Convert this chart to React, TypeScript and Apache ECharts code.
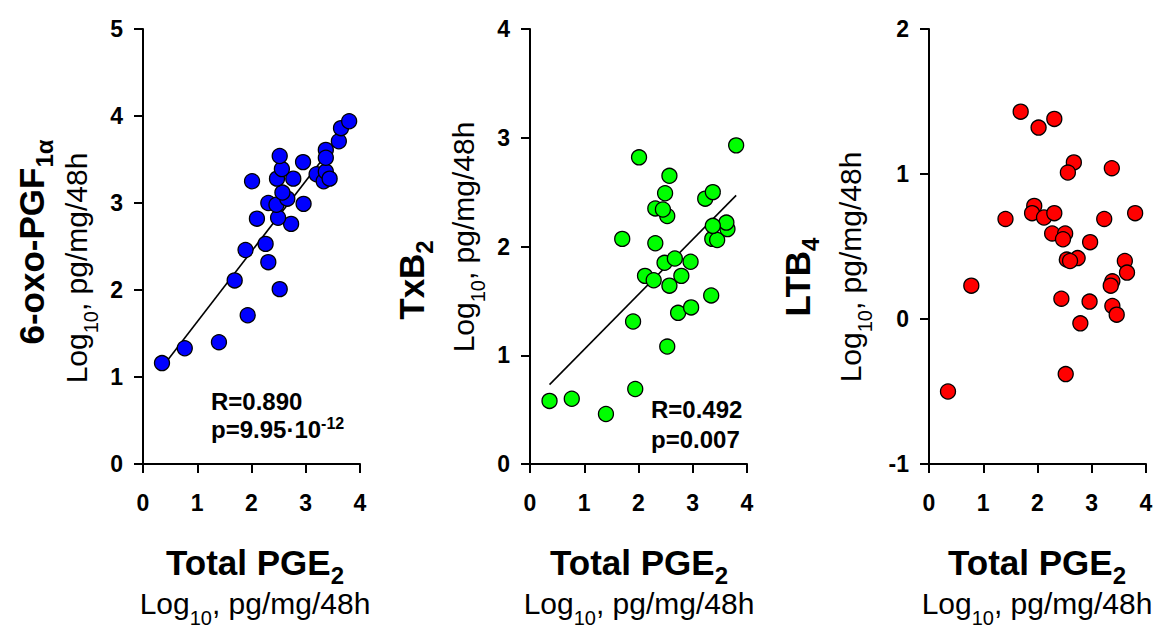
import React, { useEffect, useRef } from "react";
import * as echarts from "echarts";

const FONT = "'Liberation Sans', Arial, Helvetica, sans-serif";

// Panel 1: Total PGE2 vs 6-oxo-PGF1α
const pgeA = [0.35, 0.77, 1.4, 1.93, 2.52, 1.69, 2.31, 1.89, 2.26, 2.1, 2.73, 2.49, 2.31, 2.46, 2.66, 2.57, 2.96, 2.01, 2.47, 2.77, 2.56, 2.52, 2.95, 3.2, 3.33, 3.37, 3.44, 3.37, 3.37, 3.61, 3.65, 3.8];
const oxoPgf = [1.16, 1.33, 1.4, 1.71, 2.01, 2.11, 2.32, 2.46, 2.53, 2.82, 2.76, 2.83, 3.0, 2.98, 3.05, 3.12, 2.99, 3.25, 3.28, 3.28, 3.39, 3.54, 3.47, 3.33, 3.25, 3.36, 3.28, 3.61, 3.52, 3.71, 3.86, 3.94];
const fitAX = [0.35, 3.8];
const fitAY = [1.11, 3.9];

// Panel 2: Total PGE2 vs TxB2
const pgeB = [0.36, 0.77, 1.4, 1.94, 1.9, 2.53, 2.73, 2.97, 3.34, 2.57, 2.12, 2.28, 2.79, 2.48, 2.67, 2.96, 1.7, 2.31, 3.36, 3.45, 3.64, 3.62, 3.37, 2.53, 2.31, 2.45, 2.49, 3.23, 3.37, 2.57, 2.01, 3.8];
const txb = [0.58, 0.6, 0.46, 0.69, 1.31, 1.08, 1.39, 1.44, 1.55, 1.64, 1.73, 1.69, 1.73, 1.85, 1.89, 1.86, 2.07, 2.03, 2.07, 2.06, 2.16, 2.22, 2.19, 2.28, 2.35, 2.34, 2.49, 2.44, 2.5, 2.65, 2.82, 2.93];
const fitBX = [0.36, 3.8];
const fitBY = [0.73, 2.47];

// Panel 3: Total PGE2 vs LTB4
const pgeC = [1.69, 2.02, 2.31, 2.67, 2.56, 3.37, 1.41, 1.94, 1.9, 2.12, 2.31, 3.23, 3.8, 2.27, 2.51, 2.47, 2.97, 2.74, 2.54, 2.6, 3.61, 3.65, 0.78, 3.38, 3.35, 2.44, 2.96, 3.38, 3.46, 2.79, 2.52, 0.35];
const ltb = [1.43, 1.32, 1.38, 1.08, 1.01, 1.04, 0.69, 0.78, 0.73, 0.7, 0.73, 0.69, 0.73, 0.59, 0.59, 0.55, 0.53, 0.42, 0.41, 0.4, 0.4, 0.32, 0.23, 0.26, 0.23, 0.14, 0.12, 0.09, 0.03, -0.03, -0.38, -0.5];

const xRange = [0, 4];
const yRanges = [[0, 5], [0, 4], [-1, 2]];
const dotColors = ["#0000ff", "#00ff00", "#ff0000"];

const yTitles = ["{m|6-oxo-PGF}{s|1α}", "{m|TxB}{s|2}", "{m|LTB}{s|4}"];
const xTitle = "{m|Total PGE}{s|2}";
const unitText = "{m|Log}{s|10}{m|, pg/mg/48h}";
const statsA = ["{m|R=0.890}", "{m|p=9.95·10}{u|-12}"];
const statsB = ["{m|R=0.492}", "{m|p=0.007}"];

const zip = (a: number[], b: number[]) => a.map((v, i) => [v, b[i]]);

const boldRich = {
  m: { fontFamily: FONT, fontSize: 35, fontWeight: "bold", color: "#000", lineHeight: 34 },
  s: { fontFamily: FONT, fontSize: 24, fontWeight: "bold", color: "#000", lineHeight: 34, padding: [27, 0, 0, 0] },
};
const unitRich = {
  m: { fontFamily: FONT, fontSize: 30, color: "#000", lineHeight: 32 },
  s: { fontFamily: FONT, fontSize: 20, color: "#000", lineHeight: 32, padding: [30, 0, 0, 0] },
};
const statRich = {
  m: { fontFamily: FONT, fontSize: 24, fontWeight: "bold", color: "#000", lineHeight: 26 },
  u: { fontFamily: FONT, fontSize: 16, fontWeight: "bold", color: "#000", lineHeight: 26, padding: [0, 0, 11, 0] },
};

function label(x: number, y: number, text: string, rich: any, align: string, rotate = false) {
  return {
    type: "text",
    x,
    y,
    rotation: rotate ? Math.PI / 2 : 0,
    style: {
      text,
      rich,
      align,
      verticalAlign: "middle",
      textAlign: align,
      textVerticalAlign: "middle",
      fill: "#000",
    },
  };
}

export default function App() {
  const ref = useRef<HTMLDivElement>(null);
  useEffect(() => {
    const chart = echarts.init(ref.current!, null, { renderer: "svg" });
    const lefts = [143, 530, 929];
    const grid = lefts.map((l) => ({ left: l, top: 29, width: 217, height: 435 }));
    const axisLine = { show: true, onZero: false, lineStyle: { color: "#000", width: 2 } };
    const axisTick = { show: true, length: 9, lineStyle: { color: "#000", width: 2 } };
    const labelStyle = { color: "#000", fontFamily: FONT, fontSize: 23, fontWeight: "bold" };
    const xAxis = lefts.map((_, i) => ({
      type: "value",
      gridIndex: i,
      min: xRange[0],
      max: xRange[1],
      interval: 1,
      axisLine,
      axisTick,
      splitLine: { show: false },
      axisLabel: { ...labelStyle, margin: 27 },
    }));
    const yAxis = lefts.map((_, i) => ({
      type: "value",
      gridIndex: i,
      min: yRanges[i][0],
      max: yRanges[i][1],
      interval: 1,
      axisLine,
      axisTick,
      splitLine: { show: false },
      axisLabel: { ...labelStyle, margin: 20 },
    }));
    const scatter = (i: number, data: number[][]) => ({
      type: "scatter",
      xAxisIndex: i,
      yAxisIndex: i,
      data,
      symbolSize: 15,
      z: 3,
      itemStyle: { color: dotColors[i], borderColor: "#000", borderWidth: 1.3, opacity: 1 },
    });
    const fit = (i: number, data: number[][]) => ({
      type: "line",
      xAxisIndex: i,
      yAxisIndex: i,
      data,
      symbol: "none",
      z: 2,
      silent: true,
      lineStyle: { color: "#000", width: 1.6 },
    });
    const xCenters = [255, 639, 1037];
    const graphic: any[] = [
      label(31, 242, yTitles[0], boldRich, "center", true),
      label(76, 268, unitText, unitRich, "center", true),
      label(411, 280, yTitles[1], boldRich, "center", true),
      label(463, 237, unitText, unitRich, "center", true),
      label(797, 277, yTitles[2], boldRich, "center", true),
      label(850, 267, unitText, unitRich, "center", true),
      label(211, 401, statsA[0], statRich, "left"),
      label(211, 429, statsA[1], statRich, "left"),
      label(651, 409, statsB[0], statRich, "left"),
      label(651, 439, statsB[1], statRich, "left"),
    ];
    xCenters.forEach((cx) => {
      graphic.push(label(cx, 562, xTitle, boldRich, "center"));
      graphic.push(label(cx, 603, unitText, unitRich, "center"));
    });
    chart.setOption({
      animation: false,
      backgroundColor: "#fff",
      grid,
      xAxis,
      yAxis,
      series: [
        fit(0, zip(fitAX, fitAY)),
        scatter(0, zip(pgeA, oxoPgf)),
        fit(1, zip(fitBX, fitBY)),
        scatter(1, zip(pgeB, txb)),
        scatter(2, zip(pgeC, ltb)),
      ],
      graphic,
    });
    return () => chart.dispose();
  }, []);
  return (
    <div
      ref={ref}
      style={{ position: "absolute", left: 0, top: 0, width: 1156, height: 637, background: "#fff" }}
    />
  );
}
